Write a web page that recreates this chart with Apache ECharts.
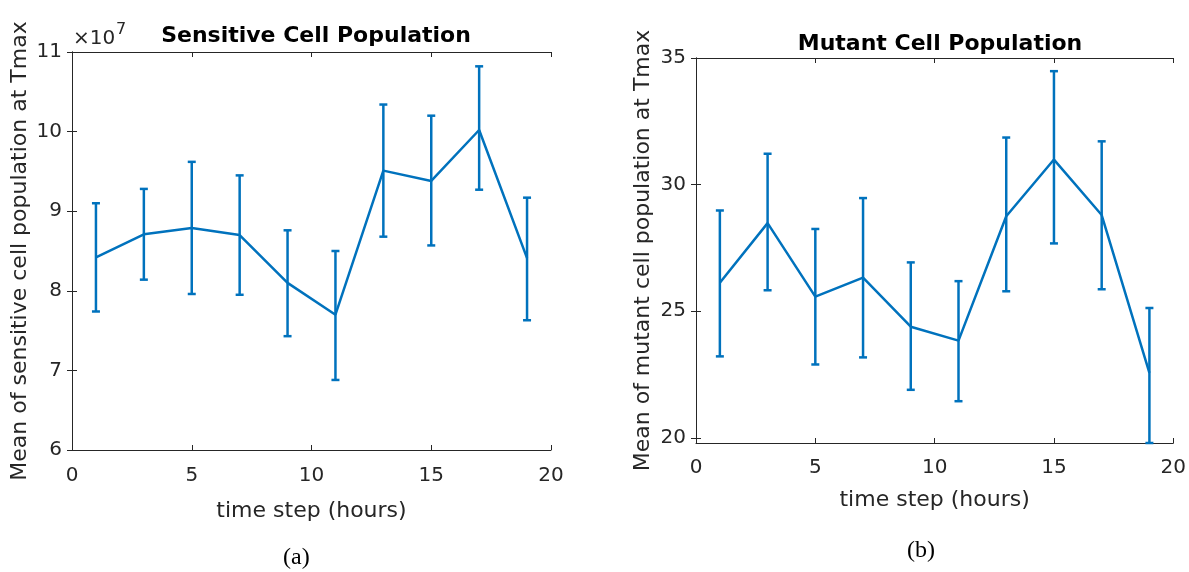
<!DOCTYPE html>
<html>
<head>
<meta charset="utf-8">
<script src="https://cdn.jsdelivr.net/npm/echarts@6/dist/echarts.min.js"></script>
<style>
  html, body { margin: 0; padding: 0; background: #fff; }
  #chart { width: 1189px; height: 572px; }
</style>
</head>
<body>
<div id="chart"></div>
<script>
// time steps (hours)
var timeSteps = [1, 3, 5, 7, 9, 11, 13, 15, 17, 19];

// sensitive cells, in units of 1e7
var sensitiveMean = [8.42, 8.71, 8.79, 8.70, 8.10, 7.70, 9.51, 9.38, 10.02, 8.41];
var sensitiveLow  = [7.74, 8.14, 7.96, 7.95, 7.43, 6.88, 8.68, 8.57, 9.27, 7.63];
var sensitiveHigh = [9.10, 9.28, 9.62, 9.45, 8.76, 8.50, 10.34, 10.20, 10.82, 9.17];

// mutant cells
var mutantMean = [26.13, 28.48, 25.58, 26.33, 24.39, 23.84, 28.75, 30.99, 28.80, 22.57];
var mutantLow  = [23.22, 25.83, 22.90, 23.18, 21.90, 21.45, 25.79, 27.68, 25.87, 19.80];
var mutantHigh = [28.98, 31.22, 28.25, 29.47, 26.93, 26.19, 31.86, 34.48, 31.71, 25.13];

var sensitiveTicks = [6, 7, 8, 9, 10, 11];
var mutantTicks = [20, 25, 30, 35];

var BLUE = '#0072BD';
var INK = '#262626';
var FONT = 'DejaVu Sans';

var chart = echarts.init(document.getElementById('chart'));

function pairs(xs, ys) {
  return xs.map(function (x, i) { return [x, ys[i]]; });
}
function bars(xs, lo, hi) {
  return xs.map(function (x, i) { return [x, lo[i], hi[i]]; });
}

// vertical error bar with small caps
function errRender(params, api) {
  var x = api.value(0);
  var lo = api.coord([x, api.value(1)]);
  var hi = api.coord([x, api.value(2)]);
  var w = 4;
  var st = { stroke: BLUE, lineWidth: 2.5, fill: null };
  return {
    type: 'group',
    children: [
      { type: 'line', shape: { x1: lo[0], y1: lo[1], x2: hi[0], y2: hi[1] }, style: st },
      { type: 'line', shape: { x1: lo[0] - w, y1: lo[1], x2: lo[0] + w, y2: lo[1] }, style: st },
      { type: 'line', shape: { x1: hi[0] - w, y1: hi[1], x2: hi[0] + w, y2: hi[1] }, style: st }
    ]
  };
}

function xAxes(gridIndex, labelMargin, nameGap) {
  var base = {
    type: 'value', gridIndex: gridIndex, min: 0, max: 20, interval: 5,
    axisLine: { show: true, lineStyle: { color: INK, width: 1 } },
    axisTick: { show: true, inside: true, length: 5, lineStyle: { color: INK } },
    splitLine: { show: false }
  };
  return [
    Object.assign({}, base, {
      position: 'bottom',
      axisLabel: { color: INK, fontFamily: FONT, fontSize: 20, margin: labelMargin },
      name: 'time step (hours)', nameLocation: 'middle', nameGap: nameGap,
      nameTextStyle: { color: INK, fontFamily: FONT, fontSize: 22 }
    }),
    Object.assign({}, base, { position: 'top', axisLabel: { show: false } })
  ];
}

function yAxes(gridIndex, min, max, ticks, name, gap) {
  var base = {
    type: 'value', gridIndex: gridIndex, min: min, max: max,
    axisLine: { show: true, lineStyle: { color: INK, width: 1 } },
    axisTick: { show: true, inside: true, length: 5, lineStyle: { color: INK }, customValues: ticks },
    splitLine: { show: false }
  };
  return [
    Object.assign({}, base, {
      position: 'left',
      axisLabel: { color: INK, fontFamily: FONT, fontSize: 20, margin: 10, customValues: ticks },
      name: name, nameLocation: 'middle', nameGap: gap,
      nameTextStyle: { color: INK, fontFamily: FONT, fontSize: 22 }
    }),
    Object.assign({}, base, { position: 'right', axisLabel: { show: false } })
  ];
}

var option = {
  backgroundColor: '#fff',
  animation: false,
  title: [
    { text: 'Sensitive Cell Population', left: 311, top: 20, textAlign: 'center',
      textStyle: { fontFamily: FONT, fontSize: 22, fontWeight: 'bold', color: '#000' } },
    { text: 'Mutant Cell Population', left: 935, top: 28, textAlign: 'center',
      textStyle: { fontFamily: FONT, fontSize: 22, fontWeight: 'bold', color: '#000' } }
  ],
  grid: [
    { left: 72, right: 638, top: 52, bottom: 122 },
    { left: 696, right: 15, top: 58, bottom: 129 }
  ],
  xAxis: xAxes(0, 16, 50).concat(xAxes(1, 15, 46)),
  yAxis: yAxes(0, 6, 11, sensitiveTicks, 'Mean of sensitive cell population at Tmax', 41)
    .concat(yAxes(1, 19.8, 35, mutantTicks, 'Mean of mutant cell population at Tmax', 42)),
  series: [
    { type: 'line', xAxisIndex: 0, yAxisIndex: 0, data: pairs(timeSteps, sensitiveMean),
      showSymbol: false, lineStyle: { color: BLUE, width: 2.5 }, z: 3 },
    { type: 'custom', xAxisIndex: 0, yAxisIndex: 0, data: bars(timeSteps, sensitiveLow, sensitiveHigh),
      renderItem: errRender, encode: { x: 0, y: [1, 2] }, z: 3 },
    { type: 'line', xAxisIndex: 2, yAxisIndex: 2, data: pairs(timeSteps, mutantMean),
      showSymbol: false, lineStyle: { color: BLUE, width: 2.5 }, z: 3 },
    { type: 'custom', xAxisIndex: 2, yAxisIndex: 2, data: bars(timeSteps, mutantLow, mutantHigh),
      renderItem: errRender, encode: { x: 0, y: [1, 2] }, clip: false, z: 3 }
  ],
  graphic: [
    { type: 'text', left: 73, top: 29,
      style: { text: '×10', fontFamily: FONT, fontSize: 20, fill: INK } },
    { type: 'text', left: 116, top: 22,
      style: { text: '7', fontFamily: FONT, fontSize: 16, fill: INK } },
    { type: 'text', left: 283, top: 546,
      style: { text: '(a)', fontFamily: 'Liberation Serif', fontSize: 24, fill: '#000' } },
    { type: 'text', left: 907, top: 539,
      style: { text: '(b)', fontFamily: 'Liberation Serif', fontSize: 24, fill: '#000' } }
  ]
};

chart.setOption(option);
</script>
</body>
</html>
